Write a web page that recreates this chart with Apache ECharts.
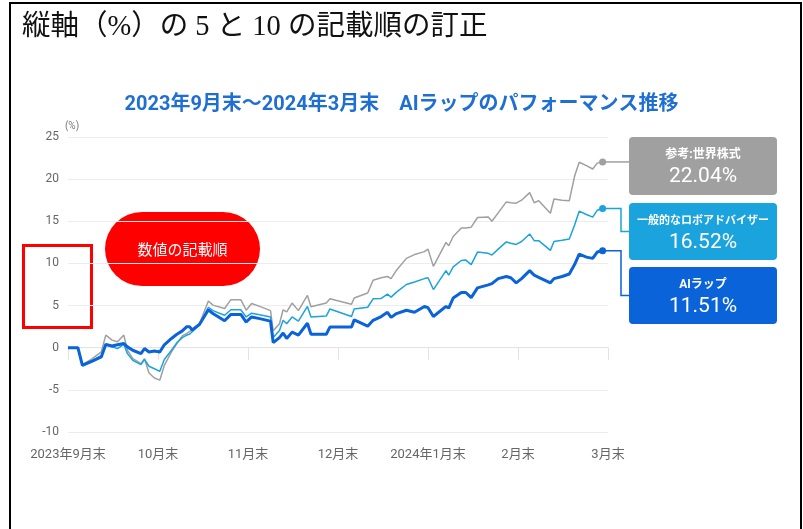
<!DOCTYPE html>
<html>
<head>
<meta charset="utf-8">
<script src="https://cdn.jsdelivr.net/npm/echarts@6/dist/echarts.min.js"></script>
<style>
  html, body { margin: 0; padding: 0; background: #fff; }
  #chart { width: 803px; height: 529px; }
</style>
</head>
<body>
<div id="chart"></div>
<script>
const monthLabels = ['2023年9月末', '10月末', '11月末', '12月末', '2024年1月末', '2月末', '3月末'];

// 時点（月単位、0 = 2023年9月末）
const times = [
  0, 0.11, 0.16, 0.27, 0.37, 0.42, 0.49, 0.55, 0.62, 0.66,
  0.72, 0.81, 0.85, 0.90, 0.96, 1.02, 1.07, 1.15, 1.21, 1.27,
  1.32, 1.35, 1.38, 1.46, 1.56, 1.61, 1.74, 1.81, 1.92, 1.98,
  2.04, 2.13, 2.25, 2.28, 2.35, 2.39, 2.43, 2.49, 2.56, 2.66,
  2.70, 2.87, 2.91, 3.15, 3.18, 3.33, 3.39, 3.48, 3.55, 3.59,
  3.65, 3.76, 3.85, 3.96, 4.00, 4.06, 4.20, 4.23, 4.28, 4.37,
  4.42, 4.48, 4.55, 4.67, 4.71, 4.78, 4.87, 4.92, 4.98, 5.04,
  5.13, 5.18, 5.23, 5.36, 5.40, 5.49, 5.57, 5.63, 5.68, 5.76,
  5.83, 5.88, 5.94
];

const aiWrap = [
  0, 0, -2.1, -1.6, -1.1, 0.4, 0.2, 0.35, 0.5, 0.1,
  -0.3, -0.7, -0.1, -0.5, -0.4, -0.5, 0.35, 1.1, 1.6, 2.0,
  2.5, 2.5, 2.1, 2.75, 4.5, 4.05, 3.2, 3.95, 3.95, 3.05,
  3.65, 3.45, 3.15, 0.6, 1.2, 1.75, 1.1, 1.85, 1.5, 2.9,
  1.6, 1.6, 2.45, 2.45, 3.3, 2.55, 3.25, 3.7, 4.2, 3.6,
  4.05, 4.45, 4.2, 4.9, 4.75, 3.7, 4.9, 4.7, 5.9, 6.55,
  6.55, 5.95, 7.1, 7.45, 7.6, 8.2, 8.45, 8.3, 7.7, 8.2,
  9.15, 8.6, 8.35, 7.7, 8.2, 8.45, 8.75, 9.9, 11.1, 10.75,
  10.6, 11.35, 11.51
];

const roboAdvisor = [
  0, 0, -2.0, -1.5, -0.9, 0.3, 0.1, -0.1, 0.4, -0.7,
  -1.5, -2.0, -1.4, -2.2, -2.5, -2.8, -1.4, -0.3, 0.6, 1.2,
  1.5, 1.6, 1.9, 2.7, 4.8, 4.4, 3.85, 4.5, 4.5, 3.65,
  4.1, 3.9, 3.65, 1.2, 2.05, 3.25, 2.85, 3.65, 3.15, 4.9,
  3.65, 3.75, 4.6, 3.7, 4.6, 4.8, 5.8, 5.85, 6.35, 6.0,
  6.6, 7.5, 7.8, 8.2, 8.3, 6.9, 9.15, 8.6, 9.6, 10.35,
  10.4, 9.85, 11.35, 11.2, 11.0, 11.7, 12.55, 12.4, 12.25, 12.6,
  13.5, 12.7, 12.7, 11.55, 12.6, 12.75, 12.9, 14.6, 16.2, 15.8,
  15.5, 16.3, 16.52
];

const worldStock = [
  0, 0, -2.0, -1.3, -0.5, 1.5, 0.9, 0.7, 1.5, -0.3,
  -1.3, -1.9, -1.3, -3.0, -3.6, -3.85, -2.1, -0.5, 0.5, 1.4,
  1.7, 1.9, 2.1, 2.85, 5.55, 5.05, 4.65, 5.7, 5.7, 4.45,
  5.25, 4.9, 4.4, 2.0, 2.85, 4.5, 4.25, 5.3, 4.4, 6.2,
  4.85, 5.3, 5.8, 5.15, 5.9, 6.5, 8.0, 8.3, 8.45, 8.2,
  9.2, 10.6, 11.05, 11.4, 11.7, 9.65, 12.5, 12.1, 13.2, 14.2,
  14.2, 14.3, 15.45, 15.5, 15.0, 16.0, 17.3, 17.2, 17.15, 17.5,
  18.4, 17.2, 17.45, 15.95, 17.65, 17.5, 17.45, 20.4, 22.0, 21.6,
  21.2, 21.9, 22.04
];

const lines = [
  { name: '参考:世界株式', values: worldStock, color: '#a0a0a0', width: 1.5, fontSize: 12 },
  { name: '一般的なロボアドバイザー', values: roboAdvisor, color: '#1ba3dd', width: 1.5, fontSize: 11 },
  { name: 'AIラップ', values: aiWrap, color: '#0a63d9', width: 3, fontSize: 12 }
];

// 右側のラベルボックス
const boxes = [
  { y: 137, h: 58, bend: false },
  { y: 203, h: 57, bend: true },
  { y: 267, h: 57, bend: true }
];
const boxX = 629;
const boxW = 148;

const cjk = 'Roboto, "Noto Sans CJK JP", sans-serif';

const chart = echarts.init(document.getElementById('chart'));

function boxGraphics() {
  const out = [];
  lines.forEach((l, i) => {
    const b = boxes[i];
    out.push({
      type: 'rect', id: 'box' + i,
      shape: { x: boxX, y: b.y, width: boxW, height: b.h, r: 4 },
      style: { fill: l.color }
    });
    out.push({
      type: 'text', id: 'boxname' + i,
      x: boxX + boxW / 2, y: b.y + 18,
      style: {
        text: l.name, fill: '#fff', font: 'bold ' + l.fontSize + 'px ' + cjk,
        align: 'center', verticalAlign: 'middle'
      }
    });
    const last = l.values[l.values.length - 1];
    out.push({
      type: 'text', id: 'boxval' + i,
      x: boxX + boxW / 2, y: b.y + 40,
      style: {
        text: last.toFixed(2) + '%', fill: '#fff', font: '21px Roboto, sans-serif',
        align: 'center', verticalAlign: 'middle'
      }
    });
  });
  return out;
}

const option = {
  backgroundColor: '#fff',
  animation: false,
  title: {
    text: '2023年9月末～2024年3月末　AIラップのパフォーマンス推移',
    left: 'center',
    top: 90,
    textStyle: { color: '#1f6fd3', fontSize: 20, fontWeight: 'bold', fontFamily: cjk }
  },
  grid: { left: 68, right: 195, top: 137, bottom: 97 },
  xAxis: {
    type: 'value',
    min: 0,
    max: 6,
    interval: 1,
    axisLine: { show: true, lineStyle: { color: '#e2e2e2' } },
    axisTick: { show: true, length: 12, lineStyle: { color: '#e2e2e2' } },
    splitLine: { show: false },
    axisLabel: {
      color: '#666', fontSize: 13, fontFamily: cjk, margin: 16,
      formatter: v => monthLabels[v]
    }
  },
  yAxis: {
    type: 'value',
    min: -10,
    max: 25,
    interval: 5,
    name: '(%)',
    nameGap: 6,
    nameTextStyle: { color: '#777', fontSize: 10, fontFamily: 'Roboto', padding: [0, 0, 0, 8] },
    axisLine: { show: false },
    axisTick: { show: false },
    axisLabel: { color: '#666', fontSize: 12, fontFamily: 'Roboto', margin: 9 },
    splitLine: {
      lineStyle: {
        color: ['#ececec', '#ececec', '#a8a8a8', '#ececec', '#ececec', '#ececec', '#ececec', '#ececec']
      }
    }
  },
  series: lines.map(l => ({
    type: 'line',
    name: l.name,
    data: times.map((t, i) => [t, l.values[i]]),
    showSymbol: true,
    showAllSymbol: true,
    symbol: 'circle',
    symbolSize: (v, p) => (p.dataIndex === times.length - 1 ? 7 : 0),
    itemStyle: { color: l.color },
    lineStyle: { color: l.color, width: l.width },
    emphasis: { disabled: true }
  })),
  graphic: [
    {
      type: 'polyline', id: 'frame',
      shape: { points: [[10, 529], [10, 3], [801, 3], [801, 529]] },
      style: { stroke: '#000', lineWidth: 2, fill: null }
    },
    {
      type: 'text', id: 'heading',
      x: 22, y: 28,
      style: {
        text: '縦軸（%）の 5 と 10 の記載順の訂正',
        fill: '#111', font: '28.5px "Liberation Serif", "Noto Sans CJK JP", serif',
        verticalAlign: 'middle'
      }
    },
    {
      type: 'rect', id: 'pill',
      shape: { x: 105, y: 212, width: 155, height: 74, r: 37 },
      style: { fill: '#ff0000' }
    },
    {
      type: 'text', id: 'pilltext',
      x: 182.5, y: 249,
      style: {
        text: '数値の記載順', fill: '#fff', font: '15px "Noto Sans CJK JP", sans-serif',
        align: 'center', verticalAlign: 'middle'
      }
    },
    {
      type: 'rect', id: 'redbox',
      shape: { x: 23.5, y: 245.5, width: 68, height: 82 },
      style: { fill: null, stroke: '#ff0000', lineWidth: 3 }
    }
  ].concat(boxGraphics())
};

chart.setOption(option);

// 終点から右側ボックスへの引き出し線
function drawConnectors() {
  const elbowX = 621;
  const items = lines.map((l, i) => {
    const last = times.length - 1;
    const [x, y] = chart.convertToPixel({ gridIndex: 0 }, [times[last], l.values[last]]);
    const b = boxes[i];
    const by = b.y + b.h / 2;
    const points = b.bend
      ? [[x, y], [elbowX, y], [elbowX, by], [boxX, by]]
      : [[x, y], [boxX, y]];
    return {
      type: 'polyline', id: 'conn' + i, z: -1,
      shape: { points },
      style: { stroke: l.color, lineWidth: 1.5, fill: null }
    };
  });
  chart.setOption({ graphic: items });
}

drawConnectors();
</script>
</body>
</html>
